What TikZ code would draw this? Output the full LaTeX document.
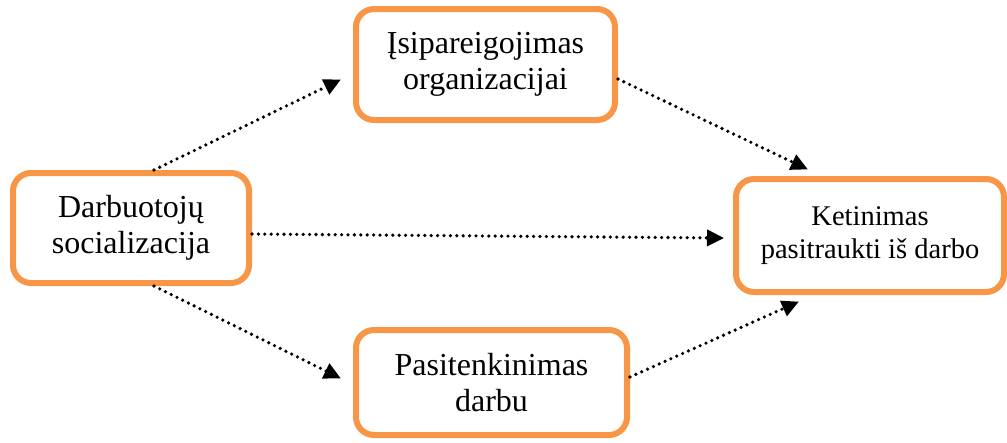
\documentclass[tikz,border=0pt]{standalone}
\usepackage{fontspec}
\setmainfont{Liberation Serif}
\usetikzlibrary{calc,arrows.meta}
\definecolor{boxorange}{HTML}{F79646}
\begin{document}
\begin{tikzpicture}[x=1pt,y=-1pt,
  box/.style={draw=boxorange, line width=6pt, rounded corners=18pt, rectangle, inner sep=0pt, align=center, font=\fontsize{32}{36}\selectfont},
  conn/.style={line width=3.6pt, dash pattern=on 0pt off 6.4pt, line cap=round, -{Triangle[length=17pt,width=16pt,line cap=butt,line join=miter]}, shorten >=-1pt}]
\useasboundingbox (0,0) rectangle (1007,442);
\node[box, minimum width=236pt, minimum height=110pt] (L) at (131,228) {Darbuotojų\\socializacija};
\node[box, minimum width=259pt, minimum height=111pt] (T) at (485.5,64.5) {Įsipareigojimas\\organizacijai};
\node[box, minimum width=271pt, minimum height=105pt] (B) at (491.5,382.5) {Pasitenkinimas\\darbu};
\node[box, minimum width=268pt, minimum height=113pt, font=\fontsize{28.5}{33}\selectfont] (R) at (870,235.5) {Ketinimas\\pasitraukti iš darbo};
\draw[conn] ($(L.north)+(23,0)$) -- ($(T.west)+(-13,15.5)$);
\draw[conn] ($(T.east)+(0,14.5)$) -- ($(R.north)+(-63,-7)$);
\draw[conn] ($(L.east)+(0,6)$) -- ($(R.west)+(-10,2.5)$);
\draw[conn] ($(L.south)+(23,0)$) -- ($(B.west)+(-13,-4.5)$);
\draw[conn] ($(B.east)+(0,-5.5)$) -- ($(R.south)+(-72,7)$);
\end{tikzpicture}
\end{document}
